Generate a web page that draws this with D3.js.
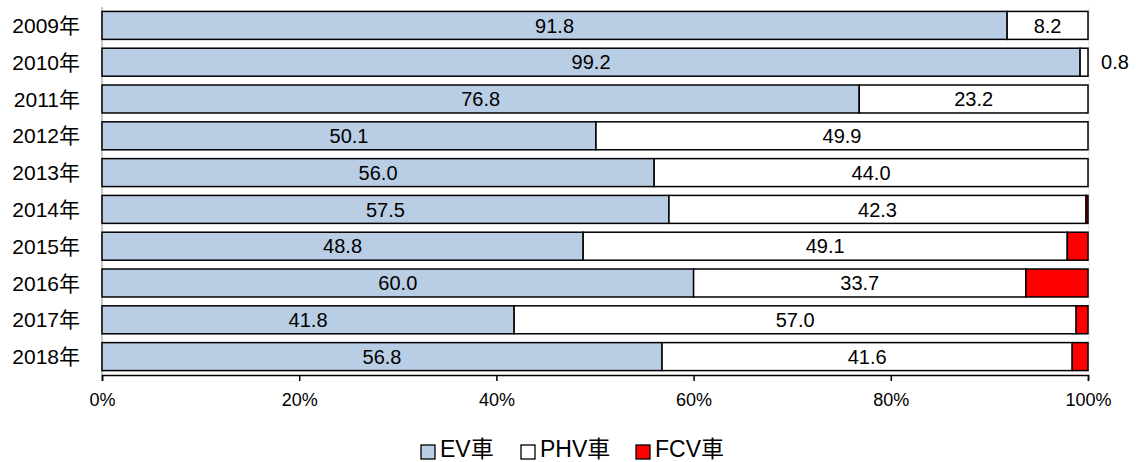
<!DOCTYPE html>
<html>
<head>
<meta charset="utf-8">
<script src="https://cdn.jsdelivr.net/npm/d3@7"></script>
<style>
  html, body { margin: 0; padding: 0; background: #fff; }
  svg { display: block; font-family: "Liberation Sans", Arial, "Noto Sans CJK JP", sans-serif; }
</style>
</head>
<body>
<svg id="chart" width="1136" height="462"></svg>
<script>
// Share of next-generation vehicles by type (%)
const years = ["2009年", "2010年", "2011年", "2012年", "2013年", "2014年", "2015年", "2016年", "2017年", "2018年"];
const evShare  = [91.8, 99.2, 76.8, 50.1, 56.0, 57.5, 48.8, 60.0, 41.8, 56.8];
const phvShare = [8.2, 0.8, 23.2, 49.9, 44.0, 42.3, 49.1, 33.7, 57.0, 41.6];
const fcvShare = [0, 0, 0, 0, 0, 0.2, 2.1, 6.3, 1.2, 1.6];
const seriesNames = ["EV車", "PHV車", "FCV車"];
const seriesColors = ["#b9cde5", "#ffffff", "#ff0000"];
const tickValues = [0, 20, 40, 60, 80, 100];

const rows = years.map((y, i) => ({ year: y, ev: evShare[i], phv: phvShare[i], fcv: fcvShare[i] }));
const keys = ["ev", "phv", "fcv"];
const stacked = d3.stack().keys(keys)(rows);

const svg = d3.select("#chart");
const margin = { left: 102, right: 48, top: 7, bottom: 87 };
const W = 1136, H = 462;

const x = d3.scaleLinear().domain([0, 100]).range([margin.left, W - margin.right]);
const y = d3.scaleBand().domain(years).range([margin.top, H - margin.bottom]).paddingInner(0.24).paddingOuter(0.12);

// plot-area side edges
svg.append("line").attr("x1", x(0)).attr("x2", x(0)).attr("y1", margin.top).attr("y2", H - margin.bottom)
  .attr("stroke", "#c8c8c8").attr("stroke-width", 2);
svg.append("line").attr("x1", x(100) + 1).attr("x2", x(100) + 1).attr("y1", margin.top).attr("y2", H - margin.bottom)
  .attr("stroke", "#e4e4e4").attr("stroke-width", 1);

// stacked bars
stacked.forEach((layer, si) => {
  svg.append("g").selectAll("rect").data(layer).join("rect")
    .attr("x", d => x(d[0]))
    .attr("y", d => y(d.data.year))
    .attr("width", d => x(d[1]) - x(d[0]))
    .attr("height", y.bandwidth())
    .attr("fill", seriesColors[si])
    .attr("stroke", "#000")
    .attr("stroke-width", 1.5)
    .attr("display", d => (d[1] - d[0]) > 0 ? null : "none");
});

// value labels for EV and PHV
["ev", "phv"].forEach((k, si) => {
  const layer = stacked[si];
  svg.append("g").selectAll("text").data(layer).join("text")
    .attr("x", d => {
      const w = x(d[1]) - x(d[0]);
      return w < 30 ? x(100) + 27 : (x(d[0]) + x(d[1])) / 2;
    })
    .attr("y", d => y(d.data.year) + y.bandwidth() / 2)
    .attr("dy", "0.36em")
    .attr("text-anchor", "middle")
    .attr("font-size", 20)
    .attr("fill", "#000")
    .text(d => d.data[k].toFixed(1));
});

// category labels
svg.append("g").selectAll("text").data(years).join("text")
  .attr("x", 80)
  .attr("y", d => y(d) + y.bandwidth() / 2)
  .attr("dy", "0.36em")
  .attr("text-anchor", "end")
  .attr("font-size", 21)
  .attr("fill", "#000")
  .text(d => d);

// bottom axis
const axis = d3.axisBottom(x).tickValues(tickValues).tickFormat(d => d + "%").tickSize(6).tickPadding(12);
const gx = svg.append("g").attr("transform", `translate(0,${H - margin.bottom})`).call(axis);
gx.select(".domain").attr("stroke", "#000").attr("stroke-width", 1.5);
gx.selectAll(".tick line").attr("stroke", "#000").attr("stroke-width", 1.5);
gx.selectAll(".tick text").attr("font-size", 18).attr("fill", "#000")
  .attr("font-family", "\"Liberation Sans\", Arial, sans-serif");

// legend
const legendX = [421, 521, 636];
const lg = svg.append("g");
seriesNames.forEach((name, i) => {
  lg.append("rect").attr("x", legendX[i]).attr("y", 445).attr("width", 14).attr("height", 14)
    .attr("fill", seriesColors[i]).attr("stroke", "#000").attr("stroke-width", 1.3);
  lg.append("text").attr("x", legendX[i] + 19).attr("y", 457)
    .attr("font-size", 23).attr("fill", "#000").text(name);
});
</script>
</body>
</html>
